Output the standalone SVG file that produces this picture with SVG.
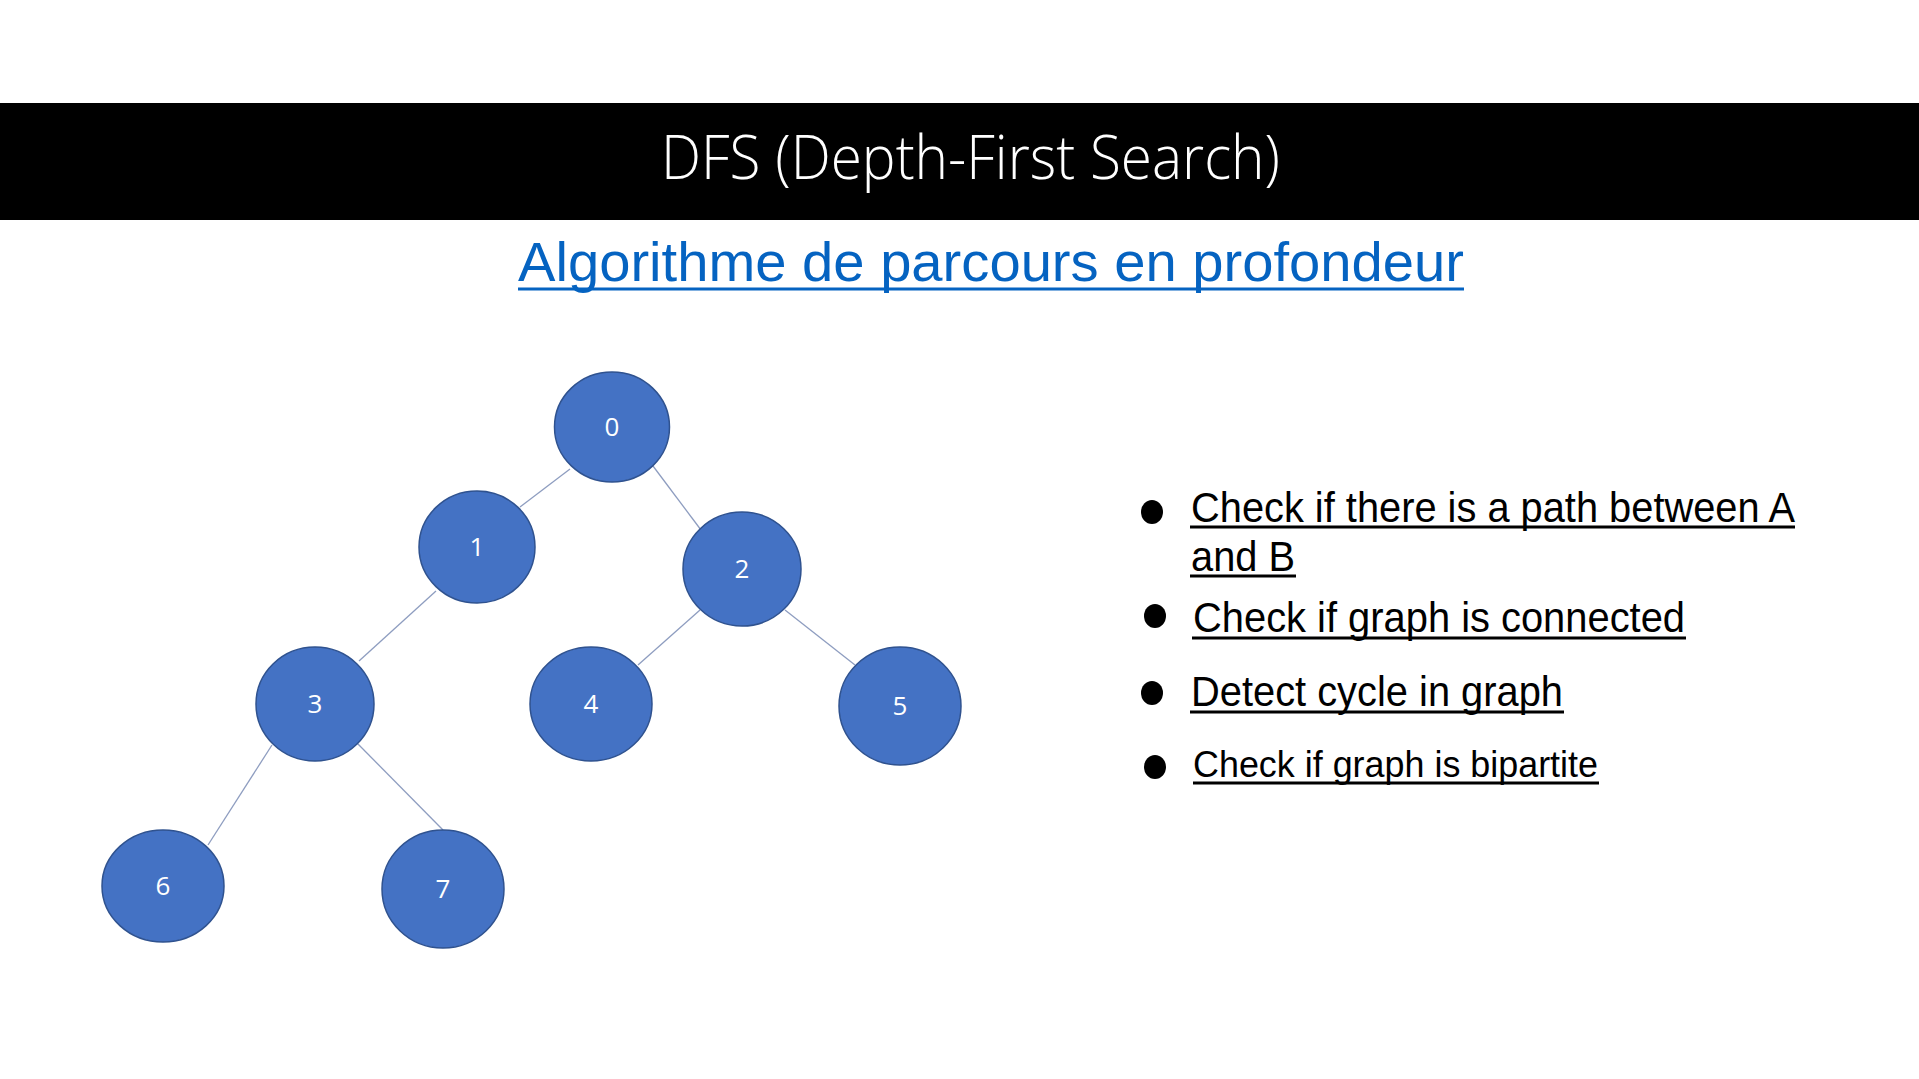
<svg xmlns="http://www.w3.org/2000/svg" width="1919" height="1079" viewBox="0 0 1919 1079">
  <style>
    .title { font-family: "Open Sans", "Noto Sans", sans-serif; font-weight: 300; font-size: 60px; fill: #ffffff; }
    .subtitle { font-family: "Liberation Sans", Arial, sans-serif; font-size: 56px; fill: #0563C1; }
    .node { fill: #4472C4; stroke: #2F528F; stroke-width: 1.5; }
    .label { font-family: "Open Sans", "Noto Sans", sans-serif; font-size: 26px; fill: #ffffff; text-anchor: middle; }
    .edge { stroke: #8E9DC0; stroke-width: 1.3; fill: none; }
    .item { font-family: "Liberation Sans", Arial, sans-serif; font-size: 42px; fill: #000000; }
    .dot { fill: #000000; }
    .ul { stroke: #000000; stroke-width: 3; }
    .ul-blue { stroke: #0563C1; stroke-width: 3; }
  </style>

  <rect x="0" y="0" width="1919" height="1079" fill="#ffffff"/>

  <!-- header bar -->
  <rect x="0" y="103" width="1919" height="117" fill="#000000"/>
  <text class="title" x="661" y="179" textLength="619" lengthAdjust="spacingAndGlyphs">DFS (Depth-First Search)</text>

  <!-- subtitle with underline -->
  <text class="subtitle" x="518" y="281" textLength="946" lengthAdjust="spacingAndGlyphs">Algorithme de parcours en profondeur</text>
  <line class="ul-blue" x1="518" y1="289" x2="1464" y2="289"/>

  <!-- tree edges -->
  <g id="connectors">
    <line class="edge" x1="570" y1="469" x2="520" y2="507"/>
    <line class="edge" x1="653" y1="466" x2="701" y2="530"/>
    <line class="edge" x1="436" y1="591" x2="359" y2="661"/>
    <line class="edge" x1="700" y1="610" x2="638" y2="665"/>
    <line class="edge" x1="785" y1="610" x2="855" y2="665"/>
    <line class="edge" x1="272" y1="745" x2="208" y2="845"/>
    <line class="edge" x1="357" y1="743" x2="443" y2="830"/>
  </g>

  <!-- tree nodes -->
  <g id="node-0"><ellipse class="node" cx="612" cy="427" rx="57.5" ry="55"/><text class="label" x="612" y="436">0</text></g>
  <g id="node-1"><ellipse class="node" cx="477" cy="547" rx="58" ry="56"/><text class="label" x="477" y="556">1</text></g>
  <g id="node-2"><ellipse class="node" cx="742" cy="569" rx="59" ry="57"/><text class="label" x="742" y="578">2</text></g>
  <g id="node-3"><ellipse class="node" cx="315" cy="704" rx="59" ry="57"/><text class="label" x="315" y="713">3</text></g>
  <g id="node-4"><ellipse class="node" cx="591" cy="704" rx="61" ry="57"/><text class="label" x="591" y="713">4</text></g>
  <g id="node-5"><ellipse class="node" cx="900" cy="706" rx="61" ry="59"/><text class="label" x="900" y="715">5</text></g>
  <g id="node-6"><ellipse class="node" cx="163" cy="886" rx="61" ry="56"/><text class="label" x="163" y="895">6</text></g>
  <g id="node-7"><ellipse class="node" cx="443" cy="889" rx="61" ry="59"/><text class="label" x="443" y="898">7</text></g>

  <!-- uses list -->
  <g id="uses">
    <ellipse class="dot" cx="1152" cy="512" rx="11" ry="12"/>
    <text class="item" x="1191" y="522" textLength="604" lengthAdjust="spacingAndGlyphs">Check if there is a path between A</text>
    <line class="ul" x1="1190" y1="527" x2="1795" y2="527"/>
    <text class="item" x="1191" y="571" textLength="104" lengthAdjust="spacingAndGlyphs">and B</text>
    <line class="ul" x1="1190" y1="576" x2="1296" y2="576"/>

    <ellipse class="dot" cx="1155" cy="616" rx="11" ry="12"/>
    <text class="item" x="1193" y="632" textLength="492" lengthAdjust="spacingAndGlyphs">Check if graph is connected</text>
    <line class="ul" x1="1192" y1="638" x2="1686" y2="638"/>

    <ellipse class="dot" cx="1152" cy="693" rx="11" ry="12"/>
    <text class="item" x="1191" y="706" textLength="372" lengthAdjust="spacingAndGlyphs">Detect cycle in graph</text>
    <line class="ul" x1="1190" y1="712" x2="1564" y2="712"/>

    <ellipse class="dot" cx="1155" cy="767" rx="11" ry="12"/>
    <text class="item" x="1193" y="777" style="font-size:37px" textLength="405" lengthAdjust="spacingAndGlyphs">Check if graph is bipartite</text>
    <line class="ul" x1="1193" y1="783" x2="1599" y2="783"/>
  </g>
</svg>
